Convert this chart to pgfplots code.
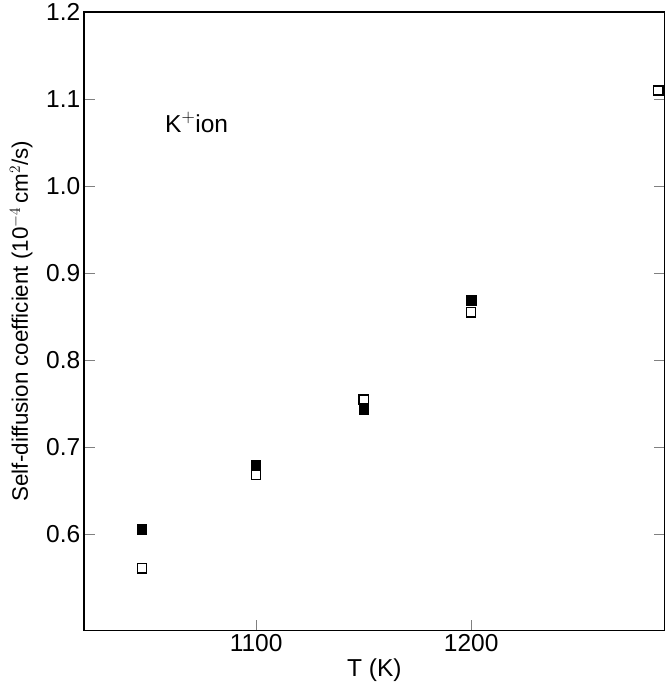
\documentclass[border=0pt]{standalone}
\usepackage{pgfplots}
\pgfplotsset{compat=1.18}
\usepackage{fontspec}
\setmainfont{Liberation Sans}
\begin{document}
\begin{tikzpicture}
\begin{axis}[
  scale only axis, width=545pt, height=580pt,
  xmin=1020, xmax=1290, ymin=0.49, ymax=1.2,
  xtick={1100,1200}, ytick={0.6,0.7,0.8,0.9,1.0,1.1,1.2},
  xticklabel style={/pgf/number format/1000 sep={}},
  yticklabel style={/pgf/number format/fixed,/pgf/number format/fixed zerofill,/pgf/number format/precision=1},
  /pgf/number format/assume math mode=true,
  tick align=inside, major tick length=10pt,
  xtick pos=bottom,
  ticklabel style={font=\fontsize{23}{25}\selectfont},
  xlabel style={font=\fontsize{23}{25}\selectfont},
  ylabel style={font=\fontsize{21}{23}\selectfont, yshift=6pt},
  xlabel={T (K)}, ylabel={Self-diffusion coefficient (10$^{-4}$\,cm$^2$/s)},
  axis line style={line width=1.2pt},
]
\addplot[only marks, mark=square*, mark size=4.3pt, black] coordinates {
(1047,0.606) (1100,0.680) (1150,0.743) (1200,0.869)};
\addplot[only marks, mark=square, mark size=4.3pt, black, line width=1.2pt] coordinates {
(1047,0.561) (1100,0.668) (1150,0.755) (1200,0.855) (1287,1.110)};
\node[anchor=west,font=\fontsize{23}{25}\selectfont] at (axis cs:1056,1.073) {K$^+$ion};
\end{axis}
\path (current bounding box.west) ++(-6pt,0) coordinate (pad);
\path (pad) rectangle ++(1pt,1pt);
\end{tikzpicture}
\end{document}
